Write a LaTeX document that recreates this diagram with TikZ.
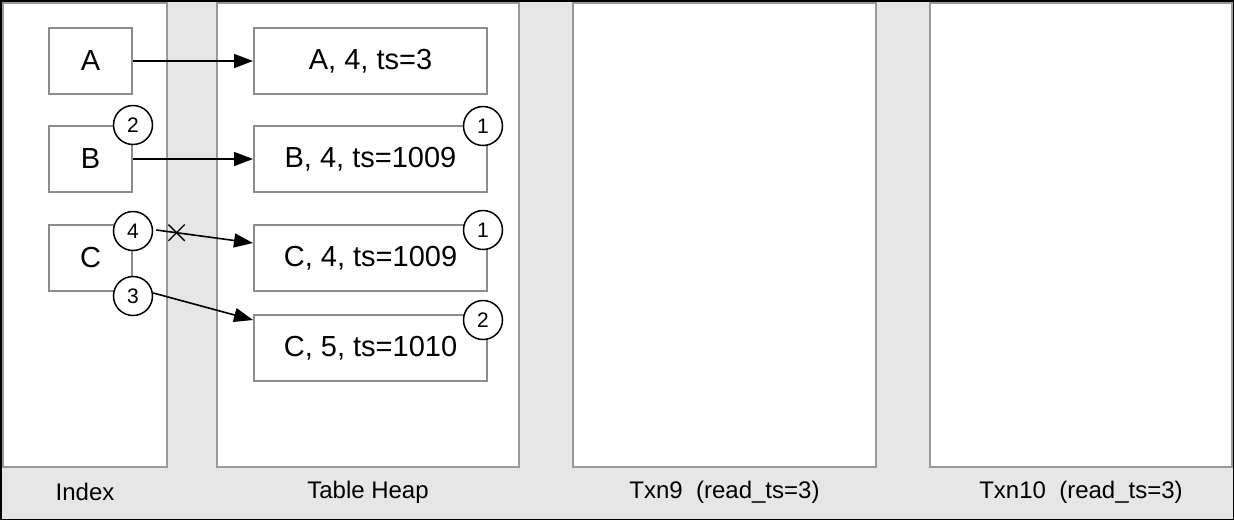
\documentclass[tikz,border=0pt]{standalone}
\usepackage{fontspec}
\setmainfont{Liberation Sans}
\usetikzlibrary{arrows.meta,shapes.misc}
\definecolor{bgcol}{HTML}{E6E6E6}
\definecolor{panelcol}{HTML}{999999}
\definecolor{boxcol}{HTML}{8C8C8C}
\tikzset{
  panel/.style={draw=panelcol, fill=white, line width=2pt, inner sep=0pt, minimum height=464pt},
  ibox/.style={draw=boxcol, fill=white, line width=2pt, inner sep=0pt, minimum width=83pt, minimum height=66pt, font=\fontsize{29}{32}\selectfont},
  hbox/.style={draw=boxcol, fill=white, line width=2pt, inner sep=0pt, minimum width=233pt, minimum height=66pt, font=\fontsize{29}{32}\selectfont},
  num/.style={circle, draw=black, fill=white, line width=1.5pt, inner sep=0pt, minimum size=39pt, font=\fontsize{21}{23}\selectfont},
  lbl/.style={font=\fontsize{24}{26}\selectfont, inner sep=0pt},
  arr/.style={draw=black, line width=1.6pt, -{Triangle[length=19pt,width=14pt]}},
  xmark/.style={cross out, draw=black, line width=1.3pt, inner sep=0pt, minimum size=15pt}
}
\begin{document}
\begin{tikzpicture}[x=1pt,y=-1pt]
\useasboundingbox (0,0) rectangle (1234,520);
\fill[bgcol] (0,0) rectangle (1234,520);
\draw[black, line width=1.5pt] (0.75,0.75) rectangle (1233.25,519.25);
% panels
\node[panel, minimum width=164pt] (pI) at (85,235) {};
\node[panel, minimum width=302pt] (pH) at (368,235) {};
\node[panel, minimum width=303pt] (pT9) at (724.5,235) {};
\node[panel, minimum width=302pt] (pT10) at (1081,235) {};
% labels
\node[lbl] (lI) at (85,492) {Index};
\node[lbl] (lH) at (368,492) {Table Heap};
\node[lbl] (lT9) at (724.5,492) {Txn9\ \ (read\_ts=3)};
\node[lbl] (lT10) at (1081,492) {Txn10\ \ (read\_ts=3)};
% index boxes
\node[ibox] (iA) at (90.5,61) {A};
\node[ibox] (iB) at (90.5,159) {B};
\node[ibox] (iC) at (90.5,258) {C};
% heap boxes
\node[hbox] (hA) at (370.5,61) {A, 4, ts=3};
\node[hbox] (hB) at (370.5,159) {B, 4, ts=1009};
\node[hbox] (hC4) at (370.5,258) {C, 4, ts=1009};
\node[hbox] (hC5) at (370.5,348) {C, 5, ts=1010};
% number circles
\node[num] (n2) at (133,125) {2};
\node[num] (n4) at (133,231) {4};
\node[num] (n3) at (133,296) {3};
\node[num] (h1a) at (483,126) {1};
\node[num] (h1b) at (483,230) {1};
\node[num] (h2) at (483,320) {2};
% arrows
\draw[arr] (iA.east) -- (hA.west);
\draw[arr] (iB.east) -- (hB.west);
\draw[arr] ([xshift=3pt,yshift=1pt]n4.east) -- ([yshift=-19pt]hC4.north west)
  node[xmark, pos=0.21] (xm) {};
\draw[arr] ([yshift=3pt]n3.east) -- ([yshift=-6pt]hC5.north west);
\end{tikzpicture}
\end{document}
